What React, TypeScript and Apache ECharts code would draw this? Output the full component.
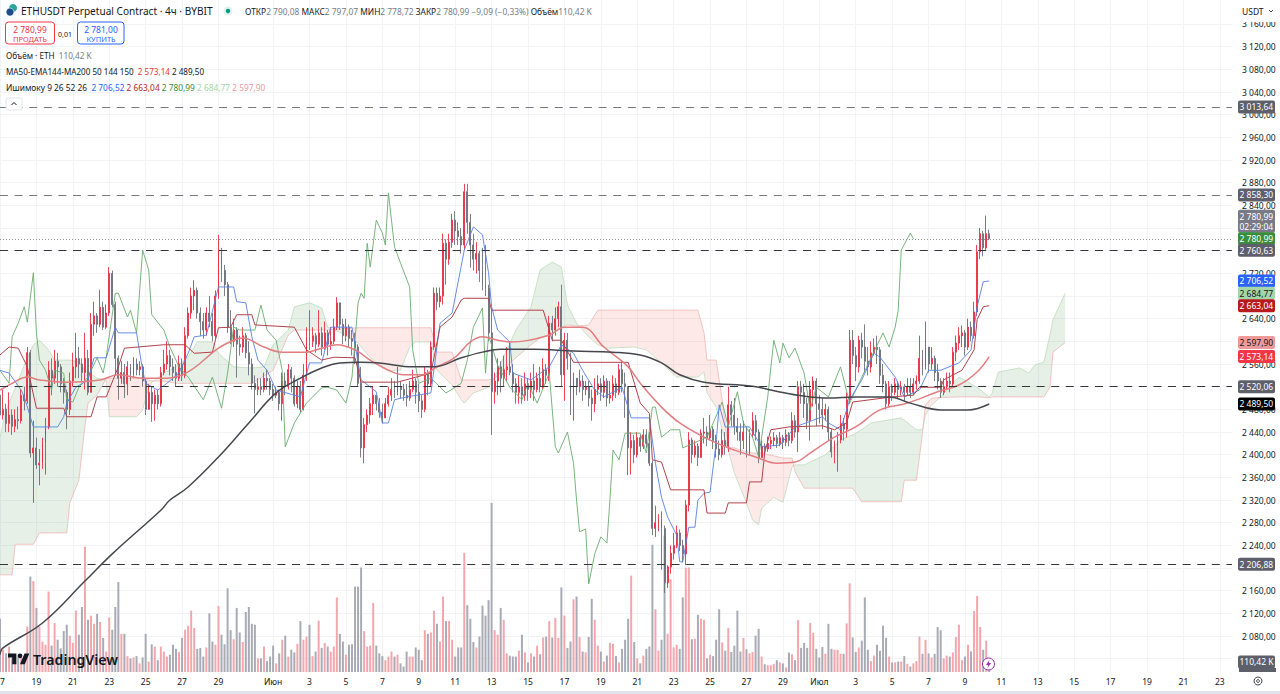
import React, { useEffect, useRef } from "react";
import * as echarts from "echarts";

const FONT = '"Noto Sans", "Open Sans", sans-serif';

// 4h candles, first candle = 17 May
const firstOpen = 2505;
const closes = [
  2470,2480,2455,2470,2450,2462,2460,2505,2495,2580,
  2403,2412,2382,2385,2420,2449,2549,2535,2565,2555,
  2525,2510,2480,2530,2555,2570,2560,2545,2570,2510,
  2630,2645,2630,2660,2625,2650,2720,2665,2570,2535,
  2545,2525,2555,2540,2560,2550,2555,2530,2480,2510,
  2490,2505,2490,2545,2560,2575,2555,2545,2535,2560,
  2540,2610,2650,2680,2690,2650,2635,2620,2650,2635,
  2610,2680,2761,2725,2700,2625,2600,2620,2595,2590,
  2610,2580,2560,2526,2515,2520,2515,2535,2530,2515,
  2505,2510,2490,2530,2520,2550,2535,2490,2520,2480,
  2540,2608,2600,2610,2595,2615,2590,2615,2595,2600,
  2625,2668,2630,2610,2625,2605,2600,2590,2526,2412,
  2453,2470,2490,2505,2490,2475,2465,2490,2505,2515,
  2510,2520,2515,2505,2500,2515,2530,2510,2495,2480,
  2545,2525,2590,2685,2670,2680,2773,2745,2775,2814,
  2795,2785,2770,2864,2810,2770,2745,2755,2725,2700,
  2694,2615,2511,2530,2555,2535,2550,2555,2545,2525,
  2510,2520,2505,2525,2515,2530,2515,2535,2520,2550,
  2540,2632,2620,2640,2661,2541,2602,2570,2497,2535,
  2520,2530,2515,2520,2500,2490,2515,2525,2510,2530,
  2500,2505,2525,2510,2550,2525,2520,2412,2425,2400,
  2430,2415,2435,2420,2385,2270,2280,2287,2270,2174,
  2202,2226,2240,2262,2240,2225,2311,2426,2400,2415,
  2395,2438,2440,2430,2445,2425,2410,2400,2425,2415,
  2488,2470,2450,2440,2425,2440,2405,2435,2460,2440,
  2395,2415,2410,2420,2425,2430,2420,2430,2422,2435,
  2425,2460,2440,2520,2510,2490,2460,2515,2530,2490,
  2480,2470,2480,2440,2405,2415,2426,2455,2445,2497,
  2602,2575,2555,2602,2590,2565,2555,2580,2590,2585,
  2540,2525,2490,2520,2510,2525,2515,2520,2510,2520,
  2510,2525,2530,2570,2555,2590,2560,2570,2545,2530,
  2510,2520,2530,2525,2581,2597,2610,2615,2590,2625,
  2610,2652,2758,2790,2765,2790.08,2780.99,
];
const highs = [
  2510,2515,2490,2510,2480,2480,2485,2515,2520,2590,
  2585,2460,2430,2410,2430,2465,2565,2570,2585,2580,
  2560,2535,2515,2545,2580,2615,2590,2570,2615,2585,
  2650,2670,2650,2691,2670,2665,2731,2725,2670,2575,
  2565,2560,2565,2560,2572,2570,2565,2560,2535,2525,
  2520,2515,2515,2555,2585,2600,2585,2570,2560,2575,
  2570,2625,2660,2695,2708,2695,2660,2650,2660,2680,
  2650,2690,2788,2765,2735,2705,2655,2640,2625,2610,
  2625,2615,2600,2570,2540,2535,2535,2545,2550,2535,
  2525,2520,2515,2545,2545,2560,2555,2540,2530,2530,
  2560,2625,2655,2625,2615,2655,2625,2635,2620,2625,
  2640,2678,2668,2640,2640,2630,2620,2615,2595,2555,
  2465,2480,2500,2520,2505,2500,2490,2500,2520,2535,
  2530,2555,2530,2525,2525,2530,2550,2535,2525,2505,
  2555,2550,2600,2695,2695,2695,2790,2780,2790,2825,
  2830,2810,2800,2878,2878,2825,2790,2775,2760,2765,
  2770,2700,2655,2545,2570,2565,2575,2590,2600,2560,
  2535,2540,2535,2545,2535,2545,2560,2545,2555,2570,
  2560,2645,2645,2660,2670,2700,2615,2615,2580,2545,
  2535,2550,2540,2530,2530,2515,2535,2540,2535,2540,
  2535,2530,2540,2535,2560,2565,2545,2520,2440,2435,
  2440,2435,2445,2445,2440,2390,2310,2295,2300,2275,
  2205,2240,2262,2275,2268,2250,2320,2440,2430,2425,
  2420,2445,2465,2450,2470,2450,2435,2425,2445,2440,
  2520,2495,2500,2465,2455,2460,2450,2445,2475,2470,
  2445,2425,2420,2432,2432,2440,2435,2440,2435,2445,
  2440,2475,2470,2530,2530,2525,2500,2530,2538,2535,
  2505,2500,2490,2485,2445,2425,2440,2470,2465,2510,
  2620,2620,2590,2610,2615,2630,2590,2600,2605,2610,
  2590,2560,2530,2530,2525,2535,2530,2530,2525,2535,
  2535,2535,2540,2610,2585,2635,2590,2590,2575,2560,
  2535,2535,2545,2545,2590,2610,2625,2628,2620,2640,
  2635,2670,2770,2800,2795,2822,2797.07,
];
const lows = [
  2455,2462,2440,2440,2435,2440,2445,2455,2478,2490,
  2395,2315,2375,2346,2375,2365,2445,2505,2525,2520,
  2510,2490,2445,2470,2520,2535,2535,2530,2515,2505,
  2510,2610,2615,2625,2620,2622,2645,2660,2540,2497,
  2525,2500,2505,2530,2535,2540,2540,2520,2470,2490,
  2458,2460,2480,2485,2540,2550,2540,2530,2520,2530,
  2530,2535,2605,2640,2655,2640,2610,2605,2610,2625,
  2600,2605,2675,2705,2680,2615,2595,2590,2536,2575,
  2580,2570,2540,2515,2473,2505,2505,2510,2515,2505,
  2495,2500,2478,2460,2505,2515,2510,2485,2482,2475,
  2478,2530,2585,2590,2580,2590,2575,2585,2575,2585,
  2595,2620,2620,2595,2600,2590,2575,2560,2520,2395,
  2385,2440,2455,2470,2478,2465,2455,2470,2485,2495,
  2500,2505,2500,2495,2485,2495,2510,2490,2475,2465,
  2475,2505,2520,2585,2655,2660,2665,2700,2735,2765,
  2770,2770,2755,2762,2790,2730,2725,2720,2705,2690,
  2680,2600,2435,2490,2505,2510,2520,2530,2540,2510,
  2490,2490,2490,2495,2495,2500,2495,2510,2510,2515,
  2525,2530,2600,2610,2625,2520,2495,2550,2470,2460,
  2505,2510,2495,2505,2485,2460,2475,2505,2495,2500,
  2485,2490,2495,2500,2505,2510,2465,2364,2365,2385,
  2395,2405,2410,2412,2380,2258,2255,2265,2197,2156,
  2165,2190,2215,2235,2230,2210,2205,2300,2385,2395,
  2380,2395,2420,2415,2425,2410,2395,2390,2395,2400,
  2405,2450,2435,2425,2400,2410,2395,2400,2430,2425,
  2385,2395,2400,2405,2410,2415,2412,2415,2410,2415,
  2415,2420,2430,2405,2490,2465,2445,2425,2485,2450,
  2455,2445,2460,2425,2395,2385,2370,2420,2425,2430,
  2490,2560,2530,2545,2570,2545,2540,2545,2575,2560,
  2525,2510,2480,2485,2495,2505,2500,2505,2495,2505,
  2500,2505,2515,2525,2540,2550,2545,2550,2530,2515,
  2500,2505,2515,2510,2520,2565,2585,2590,2575,2585,
  2600,2605,2645,2745,2750,2760,2778.72,
];
// volume, thousands of ETH
const volumes = [
  585,245,205,280,150,150,170,170,170,500,
  1050,1000,705,500,335,300,885,290,540,355,
  260,450,520,400,320,675,410,715,1380,575,
  620,530,640,550,375,225,600,465,715,990,
  420,420,175,150,160,175,95,160,420,115,
  305,280,130,280,225,170,190,300,255,220,
  375,465,510,675,485,255,265,170,270,645,
  335,300,725,410,305,920,460,360,705,435,
  330,660,715,530,520,150,150,280,120,170,
  290,95,205,355,400,170,245,215,310,560,
  355,390,520,175,225,565,265,320,280,225,
  280,820,420,335,190,300,305,940,940,1150,
  450,280,290,760,290,205,175,130,170,225,
  170,190,95,60,225,170,170,270,245,130,
  460,420,435,675,530,335,830,560,560,355,
  170,270,270,1310,735,585,330,270,390,730,
  620,790,1860,460,410,705,575,205,180,170,
  170,235,410,215,105,205,170,290,195,380,
  390,560,380,595,375,930,620,265,335,800,
  830,385,225,215,385,805,575,290,225,115,
  180,320,310,175,105,255,355,585,1060,330,
  150,95,180,255,280,1400,690,235,355,1500,
  420,1020,270,300,255,820,1150,1150,360,365,
  630,585,575,150,190,175,355,690,325,235,
  485,220,290,675,225,375,250,205,220,400,
  475,170,85,75,75,90,130,105,95,50,
  215,195,130,570,265,320,265,540,430,255,
  160,275,200,530,255,245,245,200,200,535,
  975,380,220,270,345,820,245,120,180,300,
  235,510,375,170,105,105,115,115,175,90,
  60,95,120,390,200,355,205,160,200,495,
  460,150,180,170,215,385,520,130,170,300,
  225,670,835,495,245,345,110.42,
];

// [candle index, price]
const chikou = [[0,2549],[3,2526],[4,2608],[6,2632],[8,2661],[9,2634],[11,2721],[12,2615],[13,2567],[15,2549],[17,2514],[18,2549],[21,2544],[22,2497],[24,2493],[26,2519],[29,2537],[32,2571],[34,2544],[35,2572],[38,2685],[39,2685],[42,2643],[43,2655],[45,2615],[47,2761],[49,2726],[50,2647],[54,2620],[56,2590],[59,2555],[62,2537],[67,2497],[70,2537],[73,2482],[75,2544],[77,2625],[79,2620],[84,2620],[86,2664],[88,2620],[91,2602],[93,2549],[94,2414],[97,2456],[101,2491],[106,2518],[108,2519],[111,2514],[114,2491],[116,2537],[118,2668],[119,2685],[120,2676],[121,2773],[122,2731],[124,2814],[126,2791],[127,2770],[128,2862],[130,2767],[132,2738],[135,2696],[136,2585],[138,2526],[142,2535],[147,2509],[152,2526],[154,2567],[156,2625],[159,2659],[160,2544],[161,2611],[164,2558],[168,2519],[172,2497],[174,2526],[177,2491],[181,2544],[183,2414],[184,2403],[187,2440],[189,2385],[190,2320],[191,2264],[193,2269],[194,2172],[196,2225],[198,2255],[200,2244],[201,2320],[202,2408],[204,2391],[206,2438],[211,2438],[213,2403],[215,2484],[216,2484],[218,2431],[221,2444],[224,2444],[225,2412],[233,2431],[238,2493],[240,2449],[243,2511],[245,2456],[248,2431],[250,2396],[253,2502],[255,2602],[257,2562],[258,2597],[260,2571],[262,2588],[265,2544],[267,2479],[269,2519],[273,2502],[277,2555],[280,2491],[284,2537],[291,2615],[293,2590],[295,2625],[296,2655],[297,2761],[300,2791],[301,2780.99]];
const tenkan = [[0,2549],[3,2544],[7,2514],[8,2502],[11,2449],[19,2449],[21,2467],[22,2491],[25,2519],[29,2532],[31,2571],[35,2571],[38,2625],[39,2615],[45,2615],[47,2549],[48,2526],[52,2514],[55,2526],[59,2544],[62,2579],[64,2608],[68,2611],[72,2696],[77,2696],[78,2670],[81,2668],[83,2608],[85,2567],[88,2549],[91,2514],[99,2502],[102,2562],[106,2562],[109,2625],[116,2625],[119,2532],[124,2511],[126,2456],[128,2456],[130,2497],[134,2502],[142,2509],[145,2632],[149,2650],[153,2761],[156,2802],[159,2788],[161,2721],[162,2661],[164,2620],[168,2599],[169,2544],[175,2532],[181,2555],[185,2594],[189,2579],[192,2549],[196,2514],[199,2502],[205,2519],[208,2465],[214,2465],[216,2385],[218,2325],[220,2290],[223,2258],[224,2211],[225,2211],[227,2272],[229,2272],[230,2320],[232,2332],[234,2334],[236,2421],[237,2488],[239,2449],[247,2449],[251,2414],[257,2417],[262,2449],[271,2467],[273,2456],[277,2444],[280,2497],[284,2532],[288,2579],[290,2572],[295,2537],[298,2502],[303,2514],[306,2549],[310,2549],[316,2562],[320,2585],[322,2661],[324,2705],[326,2706.52]];
const kijun = [[0,2576],[3,2590],[6,2588],[9,2555],[12,2482],[21,2482],[22,2467],[30,2467],[32,2502],[35,2502],[39,2555],[41,2588],[54,2594],[61,2594],[64,2579],[70,2581],[72,2624],[76,2625],[78,2647],[83,2647],[84,2629],[97,2625],[101,2585],[106,2567],[110,2572],[117,2571],[119,2528],[131,2528],[142,2544],[145,2625],[149,2643],[152,2673],[153,2676],[161,2676],[162,2655],[179,2655],[182,2602],[185,2602],[189,2563],[207,2563],[211,2491],[214,2473],[215,2391],[218,2387],[221,2338],[232,2338],[233,2297],[239,2297],[240,2315],[246,2315],[247,2352],[251,2352],[252,2403],[254,2444],[260,2449],[271,2451],[275,2444],[279,2456],[281,2493],[294,2502],[301,2505],[303,2519],[310,2519],[311,2532],[317,2549],[321,2585],[322,2638],[324,2661],[326,2663.04]];
const ema144 = [[0,2514],[4,2526],[9,2537],[13,2532],[22,2528],[33,2532],[39,2541],[47,2535],[55,2535],[62,2546],[72,2588],[77,2602],[80,2606],[87,2590],[93,2581],[101,2581],[106,2588],[111,2594],[117,2585],[122,2567],[128,2549],[133,2541],[139,2541],[144,2555],[150,2572],[155,2599],[159,2608],[164,2602],[168,2599],[181,2611],[186,2625],[192,2625],[199,2590],[207,2555],[211,2526],[218,2484],[224,2456],[232,2431],[240,2412],[249,2396],[256,2385],[262,2387],[267,2403],[275,2431],[282,2449],[290,2479],[299,2491],[309,2511],[316,2523],[322,2546],[326,2573.14]];
const ma200 = [[0,2047],[1,2059],[14,2103],[28,2177],[37,2225],[53,2302],[56,2320],[62,2343],[72,2396],[82,2456],[91,2509],[99,2535],[106,2553],[112,2562],[119,2563],[125,2562],[136,2555],[143,2555],[152,2571],[159,2581],[165,2586],[176,2586],[189,2583],[202,2581],[211,2576],[218,2562],[224,2541],[232,2528],[248,2521],[254,2514],[263,2505],[273,2500],[282,2502],[293,2502],[300,2491],[310,2479],[319,2479],[326,2489.5]];

// Ichimoku cloud: candle index, span A, span B
const cloudIdx = [0,2,4,5,8,11,13,16,18,22,23,26,28,29,32,35,36,45,47,49,50,54,58,62,65,70,72,77,83,87,90,95,97,102,106,108,112,118,122,128,132,135,137,142,144,149,152,153,156,161,163,170,175,178,182,185,187,190,194,197,200,209,213,218,223,230,232,233,236,238,240,242,246,248,250,251,255,258,261,262,265,272,277,281,284,287,297,298,302,304,305,307,310,316,322,326,327,329,336,339,341,344,346,347,351];
const senkouA = [2431,2479,2505,2517,2558,2594,2602,2585,2567,2567,2567,2564,2549,2546,2535,2532,2467,2467,2479,2519,2528,2544,2555,2572,2599,2599,2579,2555,2553,2555,2594,2620,2661,2668,2659,2625,2616,2597,2571,2549,2549,2590,2599,2599,2549,2523,2497,2491,2509,2519,2537,2620,2661,2726,2740,2731,2664,2632,2608,2594,2588,2590,2585,2562,2537,2537,2546,2509,2484,2444,2408,2368,2315,2285,2276,2306,2325,2316,2378,2382,2382,2400,2426,2435,2444,2456,2465,2461,2444,2444,2470,2488,2502,2537,2519,2502,2509,2546,2553,2544,2558,2564,2611,2638,2684.77];
const senkouB = [2188,2188,2188,2242,2242,2242,2262,2262,2262,2262,2315,2355,2451,2491,2505,2535,2535,2535,2535,2532,2530,2530,2526,2526,2526,2526,2526,2526,2526,2539,2549,2611,2620,2620,2620,2620,2622,2624,2624,2624,2624,2624,2624,2624,2581,2581,2532,2532,2532,2532,2535,2571,2594,2606,2615,2624,2629,2627,2629,2655,2655,2655,2655,2655,2655,2655,2615,2567,2567,2497,2413,2412,2405,2403,2403,2403,2398,2394,2394,2370,2341,2341,2341,2341,2317,2317,2317,2355,2355,2438,2488,2500,2501,2502,2502,2501,2502,2502,2502,2502,2502,2502,2519,2581,2597.9];

// x axis: day offset from 17 May and its label
const tickDays = [0,2,4,6,8,10,12,15,17,19,21,23,25,27,29,31,33,35,37,39,41,43,45,47,49,51,53,55,57,59,61,63,65,67];
const tickLabels = ["17","19","21","23","25","27","29","Июн","3","5","7","9","11","13","15","17","19","21","23","25","27","29","Июл","3","5","7","9","11","13","15","17","19","21","23"];
const candleCountOnAxis = 407;

const dashedLevels = [
  { value: 3013.64, color: "#77797f" },
  { value: 2858.3, color: "#77797f" },
  { value: 2760.63, color: "#33353b" },
  { value: 2520.06, color: "#33353b" },
  { value: 2206.88, color: "#33353b" },
];
const priceTags = [
  { anchor: 3013.64, text: "3 013,64", bg: "#5d606b", fg: "#fff" },
  { anchor: 2858.3, text: "2 858,30", bg: "#5d606b", fg: "#fff" },
  { anchor: 2812, text: "2 780,99\n02:29:04", bg: "#787b86", fg: "#fff" },
  { anchor: 2780.99, text: "2 780,99", bg: "#388e3c", fg: "#fff" },
  { anchor: 2760.63, text: "2 760,63", bg: "#5d606b", fg: "#fff" },
  { anchor: 2706.52, text: "2 706,52", bg: "#2962ff", fg: "#fff" },
  { anchor: 2684.77, text: "2 684,77", bg: "#a5d6a7", fg: "#131722" },
  { anchor: 2663.04, text: "2 663,04", bg: "#b71c1c", fg: "#fff" },
  { anchor: 2597.9, text: "2 597,90", bg: "#ef9a9a", fg: "#131722" },
  { anchor: 2573.14, text: "2 573,14", bg: "#f23645", fg: "#fff" },
  { anchor: 2520.06, text: "2 520,06", bg: "#5d606b", fg: "#fff" },
  { anchor: 2489.5, text: "2 489,50", bg: "#000000", fg: "#fff" },
  { anchor: 2206.88, text: "2 206,88", bg: "#5d606b", fg: "#fff" },
];
const hiddenAxisPrices = [2000, 2040, 2200, 2520, 2600, 2680, 2760, 2800];

const fmtPrice = (v: number) => {
  const [a, b] = v.toFixed(2).split(".");
  return `${a.slice(0, a.length - 3)} ${a.slice(-3)},${b}`;
};

function renderCloud(params: any, api: any) {
  const i = params.dataIndex;
  if (i >= cloudIdx.length - 1) return null;
  const x0 = cloudIdx[i], x1 = cloudIdx[i + 1];
  const a0 = senkouA[i], a1 = senkouA[i + 1], b0 = senkouB[i], b1 = senkouB[i + 1];
  const GREEN = "rgba(67,140,71,0.13)";
  const RED = "rgba(242,70,60,0.12)";
  const poly = (pts: number[][], fill: string) => ({
    type: "polygon",
    shape: { points: pts.map((p) => api.coord(p)) },
    style: { fill, stroke: "none" },
  });
  const d0 = a0 - b0, d1 = a1 - b1;
  let children;
  if (d0 * d1 < 0) {
    const t = d0 / (d0 - d1);
    const xc = x0 + (x1 - x0) * t;
    const yc = a0 + (a1 - a0) * t;
    children = [
      poly([[x0, a0], [xc, yc], [x0, b0]], d0 > 0 ? GREEN : RED),
      poly([[xc, yc], [x1, a1], [x1, b1]], d1 > 0 ? GREEN : RED),
    ];
  } else {
    children = [poly([[x0, a0], [x1, a1], [x1, b1], [x0, b0]], d0 + d1 >= 0 ? GREEN : RED)];
  }
  return { type: "group", children };
}

const txt = (x: number, y: number, text: string, o: any = {}) => ({
  type: "text",
  x,
  y,
  z: 100,
  silent: true,
  style: {
    text,
    fontFamily: FONT,
    fontSize: o.size ?? 8.2,
    fontWeight: o.weight ?? 400,
    fill: o.fill ?? "#131722",
    align: o.align ?? "left",
    verticalAlign: "middle",
    rich: o.rich,
  },
});

export default function App() {
  const ref = useRef<HTMLDivElement>(null);
  useEffect(() => {
    echarts.graphic.registerShape(
      "tvlogo",
      echarts.graphic.extendPath("M14 22H7V11H0V4h14v18zM28 22h-8l7.5-18h8L28 22zM24 8a4 4 0 1 1-8 0 4 4 0 0 1 8 0z", {}) as any
    );
    const chart = echarts.init(ref.current!, undefined, { renderer: "svg" });

    const categories = Array.from({ length: candleCountOnAxis }, (_, i) => String(i));
    const labelByIndex: Record<number, string> = {};
    tickDays.forEach((d, k) => (labelByIndex[d * 6] = tickLabels[k]));
    const isTick = (index: number) => labelByIndex[index] !== undefined;

    const candles = closes.map((c, i) => [i === 0 ? firstOpen : closes[i - 1], c, lows[i], highs[i]]);
    const volData = volumes.map((v, i) => ({
      value: v,
      itemStyle: { color: candles[i][1] >= candles[i][0] ? "#f4a6ad" : "#a9abb4" },
    }));

    const line = (data: number[][], color: string, width: number, z: number, smooth = false) => ({
      type: "line",
      data,
      xAxisIndex: 0,
      yAxisIndex: 0,
      showSymbol: false,
      symbol: "none",
      silent: true,
      smooth: smooth ? 0.4 : false,
      z,
      lineStyle: { color, width },
    });

    const richAt = (size: number) => {
      const R = (fill: string) => ({ fontFamily: FONT, fontSize: size, fill, color: fill });
      return {
        a: R("#131722"),
        g: R("#787b86"),
        r: R("#e53945"),
        b: R("#2962ff"),
        d: R("#b71c1c"),
        t: R("#388e3c"),
        l: R("#a5d6a7"),
        p: R("#ef9a9a"),
      };
    };

    const graphic: any[] = [
      { type: "rect", z: 100, silent: true, shape: { x: 0, y: 691, width: 1280, height: 3 }, style: { fill: "#e0e3eb" } },
      { type: "circle", z: 100, shape: { cx: 13, cy: 8, r: 4 }, style: { fill: "#26a69a" } },
      { type: "circle", z: 101, shape: { cx: 10, cy: 12, r: 4 }, style: { fill: "#1e4e8c", stroke: "#fff", lineWidth: 0.6 } },
      txt(21, 11, "ETHUSDT Perpetual Contract · 4ч · BYBIT", { size: 10.1 }),
      { type: "circle", z: 100, shape: { cx: 228, cy: 11, r: 4.5 }, style: { fill: "rgba(38,166,154,0.15)" } },
      { type: "circle", z: 101, shape: { cx: 228, cy: 11, r: 2.2 }, style: { fill: "#089981" } },
      txt(245, 11, "{a|ОТКР}{g|2 790,08 }{a|МАКС}{g|2 797,07 }{a|МИН}{g|2 778,72 }{a|ЗАКР}{g|2 780,99 −9,09 (−0,33%) }{a|Объём}{g|110,42 K}", { rich: richAt(8.4) }),
      { type: "rect", z: 100, shape: { x: 5.5, y: 22, width: 49, height: 22, r: 3 }, style: { fill: "#fff", stroke: "#f23645", lineWidth: 1 } },
      txt(30, 29, "2 780,99", { fill: "#e53945", align: "center", size: 8.5 }),
      txt(30, 38.5, "ПРОДАТЬ", { fill: "#e53945", align: "center", size: 7.5 }),
      txt(65, 34, "0,01", { align: "center", size: 7 }),
      { type: "rect", z: 100, shape: { x: 77.5, y: 22, width: 46.5, height: 22, r: 3 }, style: { fill: "#fff", stroke: "#2962ff", lineWidth: 1 } },
      txt(101, 29, "2 781,00", { fill: "#2962ff", align: "center", size: 8.5 }),
      txt(101, 38.5, "КУПИТЬ", { fill: "#2962ff", align: "center", size: 7.5 }),
      txt(6, 55.5, "{a|Объём · ETH  }{g|110,42 K}", { rich: richAt(8.2) }),
      txt(6, 71.5, "{a|MA50-EMA144-MA200 50 144 150  }{r|2 573,14 }{a|2 489,50}", { rich: richAt(8.1) }),
      txt(6, 87.5, "{a|Ишимоку 9 26 52 26  }{b|2 706,52 }{d|2 663,04 }{t|2 780,99 }{l|2 684,77 }{p|2 597,90}", { rich: richAt(8.35) }),
      { type: "rect", z: 100, shape: { x: 6, y: 98, width: 16, height: 12, r: 2 }, style: { fill: "#fff", stroke: "#e0e3eb", lineWidth: 1 } },
      { type: "polyline", z: 101, shape: { points: [[11.5, 105], [14, 102.5], [16.5, 105]] }, style: { stroke: "#131722", fill: "none", lineWidth: 1 } },
      { type: "rect", z: 100, shape: { x: 1236, y: 3, width: 40, height: 19 }, style: { fill: "#fff" } },
      txt(1242, 11, "USDT", { size: 8.5 }),
      { type: "polyline", z: 101, shape: { points: [[1269, 10], [1271, 12], [1273, 10]] }, style: { stroke: "#131722", fill: "none", lineWidth: 0.8 } },
      { type: "tvlogo", z: 100, x: 8, y: 651, scaleX: 0.6, scaleY: 0.6, style: { fill: "#131722" } },
      txt(33, 659, "TradingView", { size: 14.2, weight: 600 }),
      { type: "circle", z: 100, shape: { cx: 988.5, cy: 664, r: 6 }, style: { fill: "#fff", stroke: "#9c27b0", lineWidth: 1 } },
      { type: "polygon", z: 101, shape: { points: [[989.5, 660], [986, 665], [988.3, 665], [987.5, 668], [991, 663], [988.8, 663]] }, style: { fill: "#9c27b0" } },
      { type: "circle", z: 100, shape: { cx: 1258, cy: 681, r: 4 }, style: { fill: "#fff", stroke: "#131722", lineWidth: 0.8 } },
      { type: "circle", z: 101, shape: { cx: 1258, cy: 681, r: 1.4 }, style: { fill: "#fff", stroke: "#131722", lineWidth: 0.8 } },
      { type: "rect", z: 90, shape: { x: 1239, y: 668, width: 37, height: 4 }, style: { fill: "#5d606b" } },
    ];

    const tagLabel = (t: any) => ({
      show: true,
      position: "end",
      distance: 6,
      formatter: t.text,
      backgroundColor: t.bg,
      color: t.fg,
      fontFamily: FONT,
      fontSize: 8.5,
      lineHeight: 10,
      width: 34,
      padding: [1.5, 1.5],
      borderRadius: 2,
    });
    const hiddenLine = { color: "rgba(0,0,0,0)", width: 1, opacity: 1 };

    const markData: any[] = priceTags.map((t) => {
      const level = dashedLevels.find((l) => l.value === t.anchor);
      const isLast = t.anchor === 2780.99;
      return {
        yAxis: t.anchor,
        label: tagLabel(t),
        lineStyle: level
          ? { color: level.color, type: [8, 6.6], width: 1.2, opacity: 1 }
          : isLast
          ? { color: "#9598a1", type: [1, 2], width: 1, opacity: 1 }
          : hiddenLine,
      };
    });

    chart.setOption({
      animation: false,
      backgroundColor: "#ffffff",
      textStyle: { fontFamily: FONT },
      graphic,
      grid: [
        { left: 0, top: 1.33, width: 1232, height: 680.07, outerBoundsMode: "none" },
        { left: 0, top: 0, width: 1232, height: 672, outerBoundsMode: "none" },
      ],
      xAxis: [
        { type: "category", gridIndex: 0, data: categories, boundaryGap: false, show: false },
        {
          type: "category",
          gridIndex: 1,
          data: categories,
          boundaryGap: false,
          axisLine: { show: false },
          axisTick: { show: false },
          axisLabel: {
            interval: (i: number) => isTick(i),
            formatter: (_: string, i: number) => labelByIndex[i] ?? "",
            color: "#131722",
            fontFamily: FONT,
            fontSize: 8.5,
            margin: 5,
            hideOverlap: false,
          },
          splitLine: { show: true, interval: (i: number) => isTick(i), lineStyle: { color: "#f2f3f6", width: 1 } },
        },
      ],
      yAxis: [
        {
          type: "value",
          gridIndex: 0,
          position: "right",
          min: 2000,
          max: 3200,
          interval: 40,
          axisLine: { show: false },
          axisTick: { show: false },
          axisLabel: {
            margin: 10,
            color: "#131722",
            fontFamily: FONT,
            fontSize: 8.5,
            showMinLabel: false,
            showMaxLabel: false,
            formatter: (v: number) => (hiddenAxisPrices.includes(v) ? "" : fmtPrice(v)),
          },
          splitLine: { show: true, showMinLine: false, showMaxLine: false, lineStyle: { color: "#f2f3f6", width: 1 } },
        },
        {
          type: "value",
          gridIndex: 1,
          min: 0,
          max: 7392,
          show: false,
          splitLine: { show: false },
        },
      ],
      series: [
        {
          type: "bar",
          name: "Объём",
          xAxisIndex: 1,
          yAxisIndex: 1,
          data: volData,
          barWidth: 2,
          z: 1,
          silent: true,
          markLine: {
            silent: true,
            symbol: "none",
            animation: false,
            data: [
              {
                yAxis: 110.42,
                lineStyle: hiddenLine,
                label: tagLabel({ text: "110,42 K", bg: "#5d606b", fg: "#fff" }),
              },
            ],
          },
        },
        {
          type: "custom",
          name: "Облако",
          xAxisIndex: 0,
          yAxisIndex: 0,
          renderItem: renderCloud,
          data: cloudIdx.map((x, i) => [x, senkouA[i], senkouB[i]]),
          encode: { x: 0, y: [1, 2] },
          silent: true,
          z: 1.5,
          clip: true,
        },
        line(cloudIdx.map((x, i) => [x, senkouA[i]]), "#bcdcbd", 0.8, 1.6),
        line(cloudIdx.map((x, i) => [x, senkouB[i]]), "#efb8b4", 0.8, 1.6),
        {
          type: "candlestick",
          name: "ETHUSDT",
          xAxisIndex: 0,
          yAxisIndex: 0,
          data: candles,
          barWidth: 1.4,
          z: 2,
          silent: true,
          itemStyle: {
            color: "#ea2f44",
            color0: "#6d707b",
            borderColor: "#ea2f44",
            borderColor0: "#6d707b",
            borderWidth: 0.9,
          },
          markLine: {
            silent: true,
            symbol: "none",
            animation: false,
            precision: 2,
            data: markData,
          },
        },
        line(chikou, "#6aab6e", 0.9, 3),
        line(tenkan, "#5680e2", 0.9, 3),
        line(kijun, "#b2424a", 1, 3),
        line(ema144, "#e27d80", 1.5, 3.2, true),
        line(ma200, "#45474d", 1.5, 3.2, true),
      ],
    });
    return () => chart.dispose();
  }, []);
  return <div ref={ref} style={{ position: "absolute", left: 0, top: 0, width: 1280, height: 694 }} />;
}
